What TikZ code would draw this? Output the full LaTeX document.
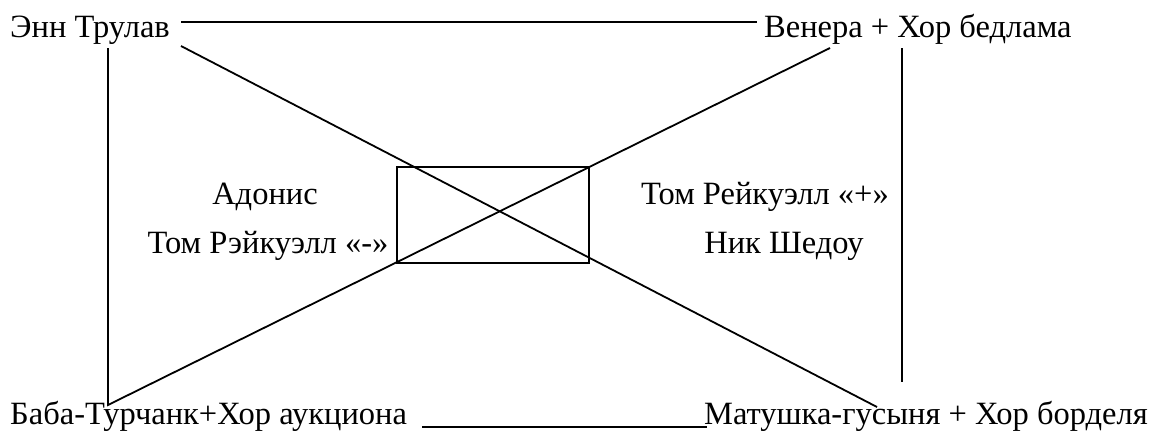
\documentclass[tikz,border=0pt]{standalone}
\usepackage{fontspec}
\setmainfont{Liberation Serif}
\begin{document}
\begin{tikzpicture}[x=1pt,y=-1pt,
  lbl/.style={inner sep=0pt,font=\fontsize{32.5}{36}\selectfont},
  ln/.style={line width=1.8pt,black}]
\useasboundingbox (0,0) rectangle (1157,432);
% text nodes
\node[lbl,anchor=base west] (ann) at (10,37) {Энн Трулав};
\node[lbl,anchor=base west] (ven) at (764,37) {Венера + Хор бедлама};
\node[lbl,anchor=base west] (baba) at (10,424) {Баба-Турчанк+Хор аукциона};
\node[lbl,anchor=base east] (mat) at (1148,424) {Матушка-гусыня + Хор борделя};
\node[lbl,anchor=base] (adon) at (265,204) {Адонис};
\node[lbl,anchor=base] (tomm) at (268,253) {Том Рэйкуэлл «-»};
\node[lbl,anchor=base] (tomp) at (765,204) {Том Рейкуэлл «+»};
\node[lbl,anchor=base] (nick) at (784,253) {Ник Шедоу};
% central box
\node[draw,ln,minimum width=192pt,minimum height=96pt,inner sep=0pt] (box) at (493,215) {};
% endpoints
\coordinate (t1) at (181,22);
\coordinate (t2) at (757,22);
\coordinate (lv1) at (108,48);
\coordinate (lv2) at (108,405);
\coordinate (d1a) at (181,46);
\coordinate (d1b) at (877,407);
\coordinate (d2b) at (830,48);
\coordinate (rv1) at (902,48);
\coordinate (rv2) at (902,382);
\coordinate (u1) at (422,427);
\coordinate (u2) at (707,427);
% connectors
\draw[ln] (t1) -- (t2);
\draw[ln] (lv1) -- (lv2) -- (d2b);
\draw[ln] (d1a) -- (d1b);
\draw[ln] (rv1) -- (rv2);
\draw[line width=1.6pt] (u1) -- (u2);
\end{tikzpicture}
\end{document}
